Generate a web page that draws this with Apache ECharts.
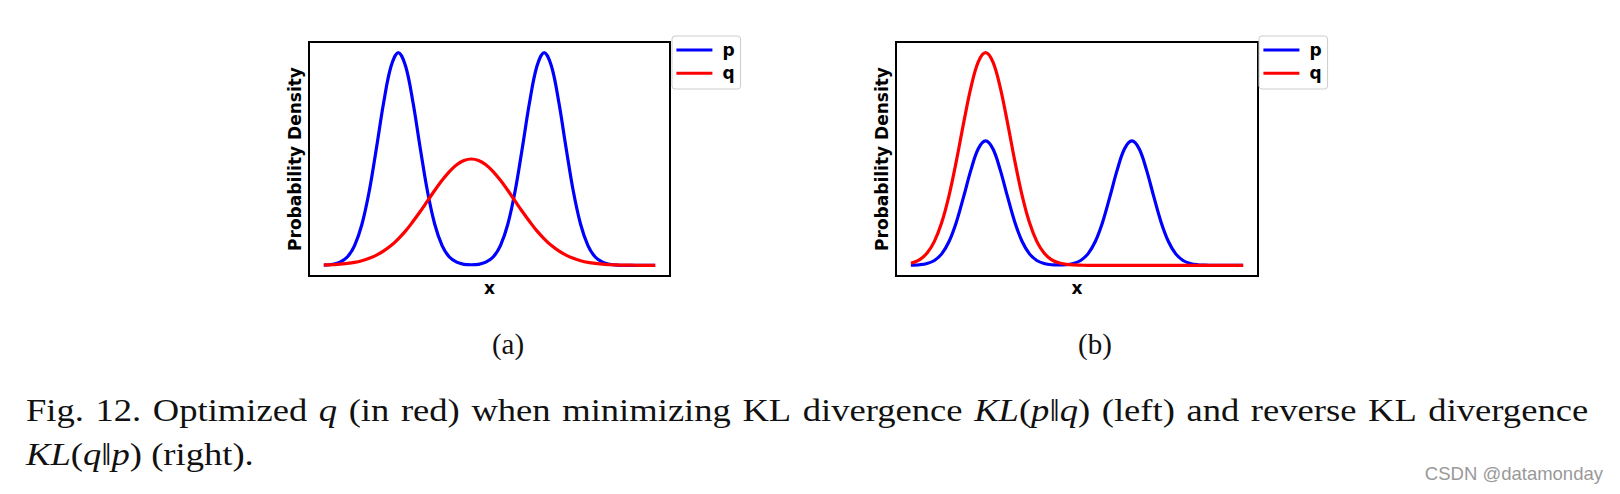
<!DOCTYPE html>
<html><head><meta charset="utf-8">
<script src="https://cdn.jsdelivr.net/npm/echarts@6/dist/echarts.min.js"></script>
<style>
html,body{margin:0;padding:0;background:#fff;width:1620px;height:494px;overflow:hidden;}
#chart{position:absolute;left:0;top:0;width:1620px;height:494px;}
.cap{position:absolute;left:26px;font-family:'Liberation Serif',serif;font-size:31px;line-height:31px;color:#111;white-space:nowrap;transform:scaleX(1.18);transform-origin:0 0;}
#l1{top:395px;width:1324px;display:flex;justify-content:space-between;}
#l2{top:439px;}
</style></head><body>
<div id="chart"></div>
<div class="cap" id="l1"></div>
<div class="cap" id="l2"></div>
<script>
// x sample positions (shared by all curves)
const xs = [0,0.2,0.4,0.6,0.8,1.0,1.2,1.4,1.6,1.8,2.0,2.2,2.4,2.6,2.8,3.0,3.2,3.4,3.6,3.8,4.0,4.2,4.4,4.6,4.8,5.0,5.2,5.4,5.6,5.8,6.0,6.2,6.4,6.6,6.8,7.0,7.2,7.4,7.6,7.8,8.0,8.2,8.4,8.6,8.8,9.0];
// panel (a): p (bimodal) and q (forward-KL fit)
const pA = [0.001,0.005,0.015,0.039,0.093,0.192,0.347,0.552,0.768,0.936,1.000,0.936,0.768,0.552,0.347,0.192,0.093,0.039,0.015,0.005,0.003,0.005,0.015,0.039,0.093,0.192,0.347,0.552,0.768,0.936,1.000,0.936,0.768,0.552,0.347,0.192,0.093,0.039,0.015,0.005,0.001,0,0,0,0,0];
const qA = [0.002,0.003,0.006,0.009,0.014,0.022,0.033,0.048,0.068,0.093,0.125,0.162,0.206,0.253,0.303,0.353,0.400,0.441,0.473,0.493,0.500,0.493,0.473,0.441,0.400,0.353,0.303,0.253,0.206,0.162,0.125,0.093,0.068,0.048,0.033,0.022,0.014,0.009,0.006,0.003,0.002,0.001,0.001,0,0,0];
// panel (b): p (bimodal) and q (reverse-KL fit)
const pB = [0.001,0.003,0.009,0.023,0.054,0.112,0.203,0.323,0.449,0.548,0.585,0.548,0.449,0.323,0.203,0.112,0.054,0.023,0.009,0.003,0.002,0.003,0.009,0.023,0.054,0.112,0.203,0.323,0.449,0.548,0.585,0.548,0.449,0.323,0.203,0.112,0.054,0.023,0.009,0.003,0.001,0,0,0,0,0];
const qB = [0.012,0.027,0.058,0.113,0.201,0.328,0.490,0.670,0.837,0.956,1.000,0.956,0.837,0.670,0.490,0.328,0.201,0.113,0.058,0.027,0.012,0.005,0.002,0.001,0,0,0,0,0,0,0,0,0,0,0,0,0,0,0,0,0,0,0,0,0,0];
const seriesNames = ['p','q'];
const panelLabels = ['(a)','(b)'];
const xName = 'x';
const yName = 'Probability Density';
const watermark = 'CSDN @datamonday';
const caption1Words = ['Fig.', '12.', 'Optimized', '<i>q</i>', '(in', 'red)', 'when', 'minimizing', 'KL', 'divergence',
  '<i>KL</i>(<i>p</i>\u2016<i>q</i>)', '(left)', 'and', 'reverse', 'KL', 'divergence'];
const caption2 = '<i>KL</i>(<i>q</i>\u2016<i>p</i>) (right).';

document.getElementById('l1').innerHTML = caption1Words.map(w => '<span>' + w + '</span>').join('');
document.getElementById('l2').innerHTML = caption2;

const BLUE = '#0000ff', RED = '#ff0000';
const pair = vals => xs.map((x, i) => [x, vals[i]]);
const lab = {fontFamily:'DejaVu Sans', fontWeight:'bold', fontSize:17, color:'#000'};
const grids = [{left:309, top:42, width:361, height:234}, {left:896, top:42, width:362, height:234}];
const legendLefts = [672, 1259];
const labelCenters = [508, 1095];

function line(name, vals, idx, color, z) {
  return {type:'line', name, xAxisIndex:idx, yAxisIndex:idx, data:pair(vals),
    showSymbol:false, symbol:'none', smooth:0.35, color, z,
    itemStyle:{color}, lineStyle:{color, width:3.2, cap:'square', join:'round'},
    emphasis:{disabled:true}};
}

const chart = echarts.init(document.getElementById('chart'), null, {renderer:'svg'});
chart.setOption({
  animation:false,
  backgroundColor:'#fff',
  grid: grids.map(g => Object.assign({show:true, borderColor:'#000', borderWidth:2, backgroundColor:'transparent'}, g)),
  xAxis: [0,1].map(i => ({gridIndex:i, type:'value', min:-0.45, max:9.45, name:xName,
    nameLocation:'middle', nameGap:3.5, nameTextStyle:lab,
    axisLine:{show:false}, axisTick:{show:false}, axisLabel:{show:false}, splitLine:{show:false}})),
  yAxis: [0,1].map(i => ({gridIndex:i, type:'value', min:-0.05, max:1.05, name:yName,
    nameLocation:'middle', nameRotate:90, nameGap:6, nameTextStyle:lab,
    axisLine:{show:false}, axisTick:{show:false}, axisLabel:{show:false}, splitLine:{show:false}})),
  legend: legendLefts.map(l => ({left:l, top:36, orient:'vertical', icon:'rect',
    itemWidth:36, itemHeight:3, itemGap:6.3, padding:[5.5,6,7.2,4.4],
    backgroundColor:'#fff', borderColor:'#cccccc', borderWidth:1, borderRadius:3,
    textStyle:Object.assign({padding:[0,0,0,5]}, lab), data:seriesNames, selectedMode:false})),
  series: [
    line(seriesNames[0], pA, 0, BLUE, 2),
    line(seriesNames[1], qA, 0, RED, 3),
    line(seriesNames[0], pB, 1, BLUE, 2),
    line(seriesNames[1], qB, 1, RED, 3)
  ],
  graphic: [
    {type:'text', x:labelCenters[0], y:344, style:{text:panelLabels[0], fill:'#111', font:'29px "Liberation Serif"', textAlign:'center', textVerticalAlign:'middle'}},
    {type:'text', x:labelCenters[1], y:344, style:{text:panelLabels[1], fill:'#111', font:'29px "Liberation Serif"', textAlign:'center', textVerticalAlign:'middle'}},
    {type:'text', x:1603, y:473, style:{text:watermark, fill:'#999', font:'18.5px "Liberation Sans"', textAlign:'right', textVerticalAlign:'middle'}}
  ]
});
</script>
</body></html>
